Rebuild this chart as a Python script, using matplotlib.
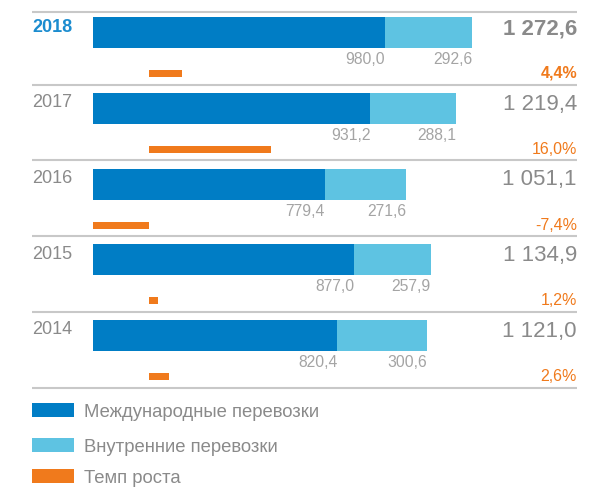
import matplotlib.pyplot as plt
import matplotlib.patches as mpatches

plt.rcParams["font.family"] = ["Liberation Sans", "DejaVu Sans"]

# Данные (млн т / %)
years = ["2018", "2017", "2016", "2015", "2014"]
intl = [980.0, 931.2, 779.4, 877.0, 820.4]
domestic = [292.6, 288.1, 271.6, 257.9, 300.6]
totals = [1272.6, 1219.4, 1051.1, 1134.9, 1121.0]
growth = [4.4, 16.0, -7.4, 1.2, 2.6]

legend_labels = ["Международные перевозки", "Внутренние перевозки", "Темп роста"]

C_INTL = "#007dc5"
C_DOM = "#5ec3e2"
C_ORANGE = "#f07a1c"
C_GRAY = "#8a8a8a"
C_LIGHT = "#a4a4a4"
C_HL = "#1b8ccf"
C_LINE = "#c8c8c8"

W, H = 590, 487
fig = plt.figure(figsize=(W / 100, H / 100), dpi=100)

# пиксельные оси для текста, линий и легенды
ax = fig.add_axes([0, 0, 1, 1])
ax.set_xlim(0, W)
ax.set_ylim(H, 0)
ax.axis("off")

# ось значений для столбцов
x0_px, xend_px = 93, 472
k = (xend_px - x0_px) / totals[0]
axb = fig.add_axes([0, 0, 1, 1])
axb.set_xlim(-x0_px / k, (W - x0_px) / k)
axb.set_ylim(H, 0)
axb.axis("off")

# ось темпов роста
g0_px, g_k = 149, 7.6
axg = fig.add_axes([0, 0, 1, 1])
axg.set_xlim(-g0_px / g_k, (W - g0_px) / g_k)
axg.set_ylim(H, 0)
axg.axis("off")

step = 75.75
centers = [32.5 + step * i for i in range(len(years))]
gcenters = [c + 41 for c in centers]

axb.barh(centers, intl, height=31, color=C_INTL, linewidth=0)
axb.barh(centers, domestic, left=intl, height=31, color=C_DOM, linewidth=0)
axg.barh(gcenters, growth, height=7, color=C_ORANGE, linewidth=0)


def fmt(v):
    return f"{v:,.1f}".replace(",", " ").replace(".", ",")


# разделители
for yl in [12.3] + [84.5 + 75.8 * i for i in range(5)]:
    ax.plot([32, 577], [yl, yl], color=C_LINE, lw=1.5, solid_capstyle="butt")

for i, yr in enumerate(years):
    c = centers[i]
    first = i == 0
    ax.text(32, c - 1, yr, fontsize=13, ha="left", va="baseline",
            color=C_HL if first else C_GRAY, fontweight="bold" if first else "normal")
    ax.text(577, c + 1.5, fmt(totals[i]), fontsize=16, ha="right", va="baseline",
            color=C_GRAY, fontweight="bold" if first else "normal")
    axb.text(intl[i], c + 31.5, fmt(intl[i]), fontsize=11.3, ha="right",
             va="baseline", color=C_LIGHT)
    axb.text(totals[i], c + 31.5, fmt(domestic[i]), fontsize=11.3, ha="right",
             va="baseline", color=C_LIGHT)
    ax.text(577, c + 45.5, fmt(growth[i]) + "%", fontsize=11.5, ha="right",
            va="baseline", color=C_ORANGE, fontweight="bold" if first else "normal")

# легенда
for yc, col, lab in zip([410, 445, 476], [C_INTL, C_DOM, C_ORANGE], legend_labels):
    ax.add_patch(mpatches.Rectangle((32, yc - 7), 42, 14, color=col, lw=0))
    ax.text(84, yc + 7, lab, fontsize=13.3, ha="left", va="baseline", color=C_GRAY)

fig.savefig("out.png", dpi=100)
